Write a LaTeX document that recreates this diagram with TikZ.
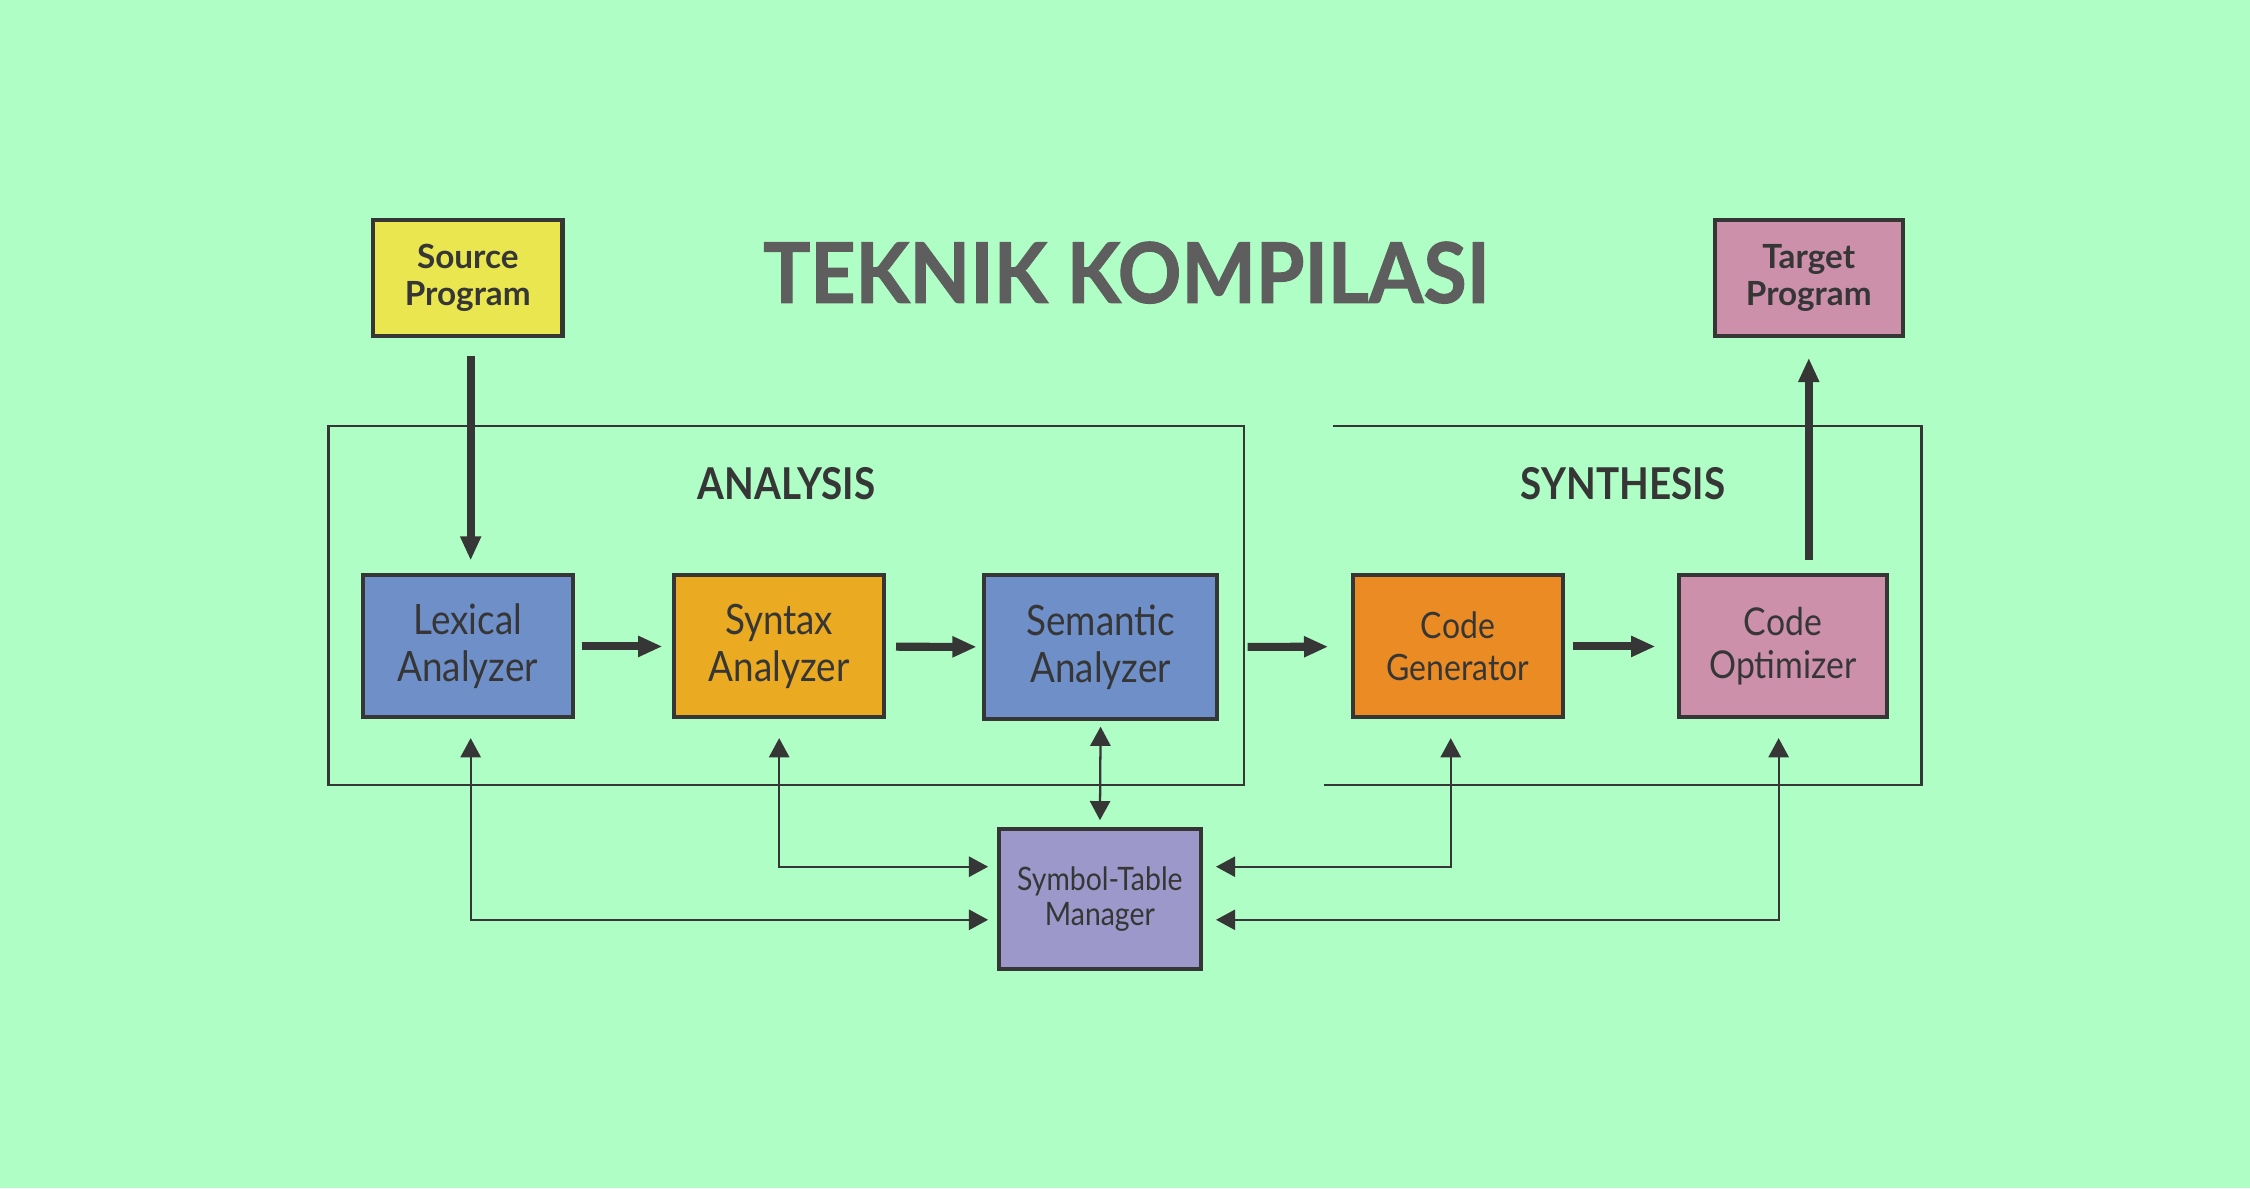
\documentclass[tikz,border=0pt]{standalone}
\usepackage{fontspec}
\setmainfont{Lato}
\newfontfamily\narrowfont{Lato}[FakeStretch=0.88]
\newfontfamily\titlefont{Lato}[FakeStretch=0.94, FakeBold=1.2]
\usetikzlibrary{arrows.meta}
\definecolor{bg}{HTML}{AFFEC5}
\definecolor{ink}{HTML}{363636}
\definecolor{titlegray}{HTML}{5E5E5E}
\definecolor{srcyellow}{HTML}{E9E64F}
\definecolor{tgtpink}{HTML}{CC90AB}
\definecolor{lexblue}{HTML}{6F8FC9}
\definecolor{synorange}{HTML}{EAAA22}
\definecolor{genorange}{HTML}{EA8B23}
\definecolor{symviolet}{HTML}{9C98CA}
\begin{document}
\begin{tikzpicture}[every node/.style={text=ink, align=center, inner sep=0pt},
    box/.style={draw=ink, line width=0.8pt, minimum width=1.46cm, minimum height=0.99cm,
                font=\narrowfont\fontsize{8.3}{9.4}\selectfont},
    io/.style={draw=ink, line width=0.8pt, minimum width=1.32cm, minimum height=0.81cm,
               font=\bfseries\fontsize{6.6}{7.4}\selectfont},
    phase/.style={font=\narrowfont\bfseries\fontsize{8.7}{10}\selectfont},
    flow/.style={draw=ink, line width=1.6pt, -{Triangle[length=4.8pt,width=3.9pt]}},
    link/.style={draw=ink, line width=0.45pt, {Triangle[length=3.8pt,width=4pt]}-{Triangle[length=3.8pt,width=4pt]}},
    frame/.style={draw=ink, line width=0.45pt}]
  \fill[bg] (0,0) rectangle (15.68,8.28);
  \useasboundingbox (0,0) rectangle (15.68,8.28);
  % title
  \node[text=titlegray, font=\titlefont\bfseries\fontsize{16.6}{18}\selectfont] (title) at (7.85,6.38) {TEKNIK KOMPILASI};
  % input and output
  \node[io, fill=srcyellow] (src) at (3.26,6.345) {Source\\Program};
  \node[io, fill=tgtpink, minimum width=1.31cm] (tgt) at (12.605,6.345) {Target\\Program};
  % phase frames
  \draw[frame] (2.29,2.81) rectangle (8.67,5.31);
  \draw[frame] (9.29,5.31) -- (13.39,5.31) -- (13.39,2.81) -- (9.23,2.81);
  \node[phase] (analysis) at (5.48,4.91) {ANALYSIS};
  \node[phase] (synthesis) at (11.31,4.91) {SYNTHESIS};
  % phases
  \node[box, fill=lexblue] (lex) at (3.26,3.775) {Lexical\\Analyzer};
  \node[box, fill=synorange] (syn) at (5.43,3.775) {Syntax\\Analyzer};
  \node[box, fill=lexblue, minimum width=1.62cm, minimum height=1.0cm] (sem) at (7.67,3.77) {Semantic\\Analyzer};
  \node[box, fill=genorange, font=\narrowfont\fontsize{7.2}{8.2}\selectfont] (gen) at (10.16,3.775) {Code\\Generator};
  \node[box, fill=tgtpink, minimum width=1.45cm, font=\narrowfont\fontsize{7.6}{8.6}\selectfont] (opt) at (12.425,3.775) {Code\\Optimizer};
  \node[box, fill=symviolet, minimum width=1.41cm, minimum height=0.97cm,
        font=\narrowfont\fontsize{6.4}{6.8}\selectfont] (sym) at (7.665,2.015) {Symbol-Table\\Manager};
  % main flow
  \draw[flow, shorten <=0.13cm, shorten >=0.09cm] ([xshift=0.02cm]src.south) -- ([xshift=0.02cm]src.south |- lex.north);
  \draw[flow, shorten <=0.05cm, shorten >=0.07cm] (lex) -- (syn);
  \draw[flow, shorten <=0.07cm, shorten >=0.04cm] (syn) -- (sem);
  \draw[flow, shorten <=0.2cm, shorten >=0.16cm] (sem) -- (gen);
  \draw[flow, shorten <=0.06cm, shorten >=0.15cm] (gen) -- (opt);
  \draw[flow, shorten <=0.09cm, shorten >=0.14cm] (opt.north -| tgt.south) -- (tgt.south);
  % symbol table links
  \draw[link, shorten <=0.06cm, shorten >=0.13cm] ([yshift=-0.145cm]sym.west) -| ([xshift=0.02cm]lex.south);
  \draw[link, shorten <=0.06cm, shorten >=0.13cm] ([yshift=0.225cm]sym.west) -| (syn.south);
  \draw[link, shorten <=0.04cm, shorten >=0.05cm] (sem.south) -- (sym.north);
  \draw[link, shorten <=0.09cm, shorten >=0.13cm] ([yshift=0.225cm]sym.east) -| ([xshift=-0.05cm]gen.south);
  \draw[link, shorten <=0.09cm, shorten >=0.13cm] ([yshift=-0.145cm]sym.east) -| ([xshift=-0.03cm]opt.south);
\end{tikzpicture}
\end{document}
